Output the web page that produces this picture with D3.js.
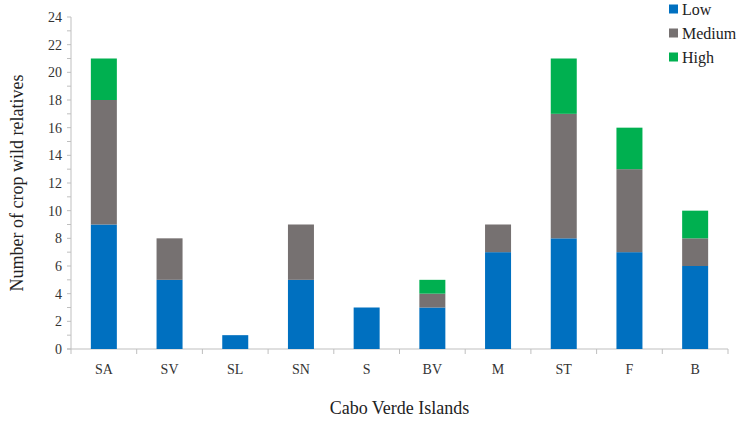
<!DOCTYPE html>
<html><head><meta charset="utf-8">
<script src="https://cdn.jsdelivr.net/npm/d3@7"></script>
<style>body{margin:0;background:#fff}svg{display:block}</style>
</head><body><svg id="c" width="738" height="421"></svg>
<script>
const categories = ["SA","SV","SL","SN","S","BV","M","ST","F","B"];
const low    = [9,5,1,5,3,3,7,8,7,6];
const medium = [9,3,0,4,0,1,2,9,6,2];
const high   = [3,0,0,0,0,1,0,4,3,2];
const seriesNames = ["Low","Medium","High"];
const colors = ["#0070C0","#767171","#00B050"];
const yTicks = d3.range(0,25,2);

const svg = d3.select("#c");
const FONT = "Liberation Serif";
const left = 71, right = 728;
const y = d3.scaleLinear().domain([0,24]).range([349, 17]);
const band = d3.scaleBand().domain(categories).range([left,right]);

const rows = categories.map((c,i)=>({cat:c, Low:low[i], Medium:medium[i], High:high[i]}));
const stack = d3.stack().keys(seriesNames)(rows);

const ax = svg.append("g");
ax.append("line").attr("x1",left).attr("x2",left).attr("y1",y(24)).attr("y2",y(0)).attr("stroke","#bfbfbf");
ax.append("line").attr("x1",left-4).attr("x2",right).attr("y1",y(0)).attr("y2",y(0)).attr("stroke","#bfbfbf");
d3.range(0,25,1).forEach(v=>{
  ax.append("line").attr("x1",left-4).attr("x2",left).attr("y1",y(v)).attr("y2",y(v)).attr("stroke","#bfbfbf");
});
yTicks.forEach(v=>{
  ax.append("text").attr("x",left-9).attr("y",y(v)).attr("dy","0.35em").attr("text-anchor","end").attr("font-size",14).attr("fill","#333").text(v);
});
for(let i=0;i<=categories.length;i++){
  const xx = left + band.step()*i;
  ax.append("line").attr("x1",xx).attr("x2",xx).attr("y1",y(0)).attr("y2",y(0)+5).attr("stroke","#bfbfbf");
}
categories.forEach(c=>{
  ax.append("text").attr("x",band(c)+band.bandwidth()/2).attr("y",y(0)+25).attr("text-anchor","middle").attr("font-size",14).attr("fill","#333").text(c);
});

const bw = 26;
svg.append("g").selectAll("g").data(stack).join("g").attr("fill",(d,i)=>colors[i])
  .selectAll("rect").data(d=>d.filter(s=>s[1]>s[0])).join("rect")
  .attr("x",d=>band(d.data.cat)+band.bandwidth()/2-bw/2)
  .attr("width",bw)
  .attr("y",d=>y(d[1]))
  .attr("height",d=>y(d[0])-y(d[1]));

svg.append("text").attr("transform",`translate(17,${(y(0)+y(24))/2}) rotate(-90)`).attr("text-anchor","middle").attr("dy","0.35em").attr("font-size",18).attr("fill","#222").text("Number of crop wild relatives");
svg.append("text").attr("x",(left+right)/2).attr("y",414).attr("text-anchor","middle").attr("font-size",18).attr("fill","#222").text("Cabo Verde Islands");

const lg = svg.append("g");
seriesNames.forEach((s,i)=>{
  const yy = 9 + i*24;
  lg.append("rect").attr("x",669).attr("y",yy-4.5).attr("width",9).attr("height",9).attr("fill",colors[i]);
  lg.append("text").attr("x",682).attr("y",yy).attr("dy","0.35em").attr("font-size",16).attr("fill","#222").text(s);
});
svg.selectAll("text").style("font-family", FONT);
</script></body></html>
